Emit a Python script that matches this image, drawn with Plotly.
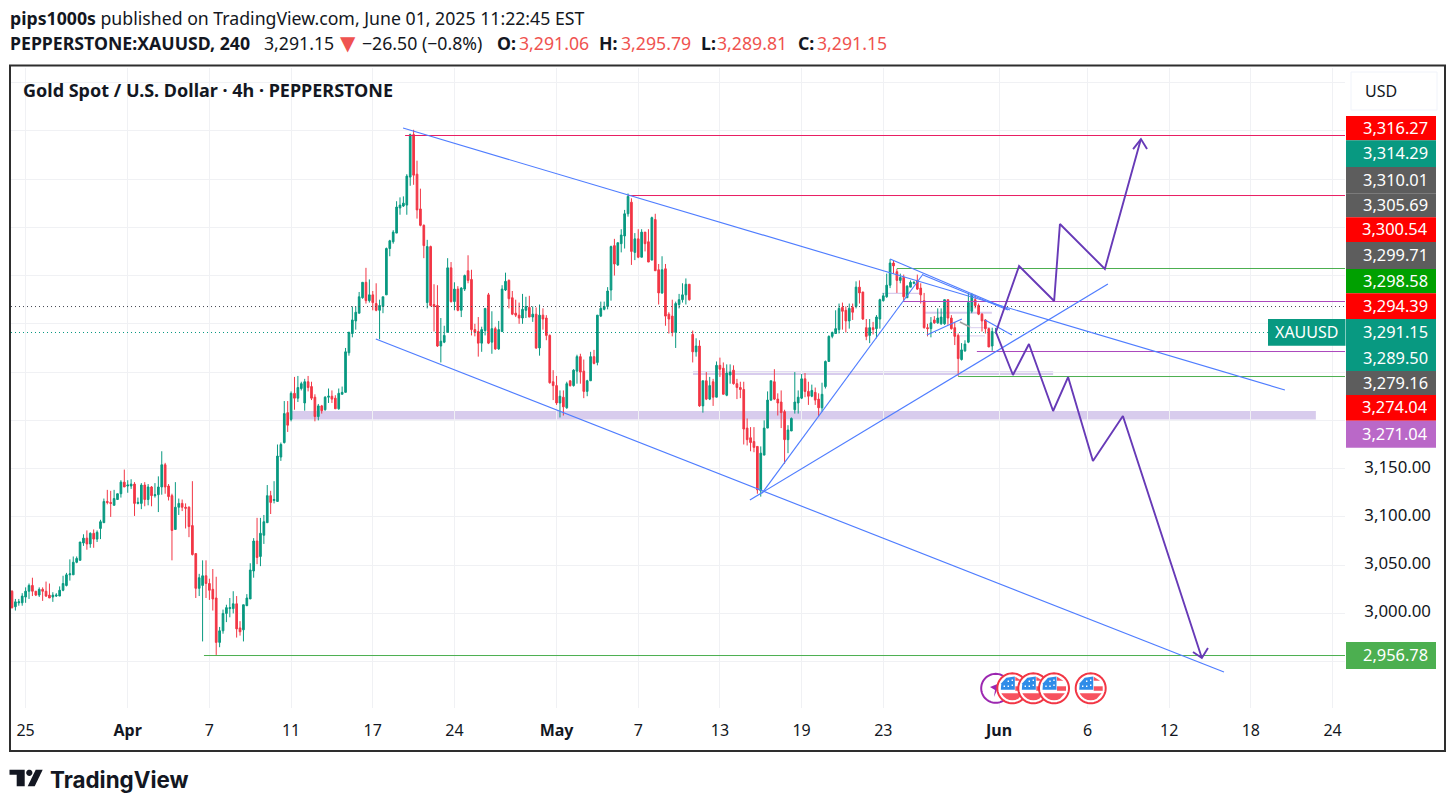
import math
import plotly.graph_objects as go

# ---------- data ----------
O = [3023,3007,3011,3011,3017,3023,3029,3023,3019,3025,
     3023,3019,3017,3018,3018,3024,3029,3040,3040,3053,
     3055,3073,3078,3072,3083,3077,3088,3094,3116,3115,
     3112,3118,3124,3136,3132,3132,3134,3114,3114,3133,
     3118,3131,3122,3123,3131,3154,3132,3122,3087,3110,
     3114,3110,3110,3091,3062,3026,3029,3039,3031,3025,
     3016,2970,2982,3000,3005,3005,3010,2985,2983,3008,
     3015,3044,3075,3059,3081,3094,3122,3117,3116,3162,
     3177,3208,3201,3228,3223,3233,3218,3240,3235,3224,
     3204,3215,3211,3224,3225,3223,3212,3227,3229,3270,
     3290,3303,3311,3327,3343,3324,3330,3321,3314,3318,
     3330,3378,3385,3394,3420,3422,3423,3452,3496,3455,
     3419,3402,3322,3380,3320,3319,3277,3281,3291,3358,
     3323,3336,3314,3336,3355,3346,3294,3292,3280,3293,
     3330,3281,3295,3274,3292,3335,3345,3327,3311,3309,
     3306,3314,3317,3307,3310,3275,3309,3306,3288,3240,
     3236,3218,3224,3213,3241,3236,3251,3266,3251,3230,
     3241,3266,3260,3308,3315,3318,3335,3381,3361,3383,
     3391,3414,3426,3374,3388,3369,3395,3385,3366,3408,
     3356,3332,3357,3310,3308,3291,3320,3325,3330,3341,
     3289,3271,3277,3215,3241,3222,3240,3224,3257,3254,
     3226,3247,3252,3238,3234,3232,3192,3182,3178,3173,
     3127,3164,3192,3221,3240,3222,3219,3209,3180,3189,
     3211,3218,3223,3243,3230,3225,3229,3222,3213,3235,
     3261,3287,3290,3294,3317,3314,3303,3317,3318,3338,
     3333,3296,3288,3296,3295,3305,3324,3328,3340,3363,
     3354,3345,3348,3327,3338,3342,3345,3337,3324,3296,
     3295,3304,3301,3300,3300,3325,3306,3296,3288,3263,
     3272,3281,3313,3325,3319,3310,3304,3295,3277,3291.06]
H = [3024,3015,3015,3021,3027,3031,3037,3023,3027,3027,
     3033,3031,3022,3021,3028,3039,3042,3056,3059,3059,
     3074,3082,3086,3084,3087,3086,3097,3119,3128,3127,
     3128,3124,3138,3149,3138,3139,3136,3120,3135,3136,
     3134,3132,3135,3142,3168,3156,3134,3124,3136,3119,
     3118,3114,3111,3137,3062,3041,3055,3055,3036,3046,
     3038,2986,3004,3009,3016,3023,3018,2992,3009,3020,
     3052,3078,3099,3099,3102,3133,3127,3137,3175,3177,
     3220,3220,3230,3245,3246,3240,3243,3246,3240,3227,
     3217,3216,3225,3233,3231,3226,3233,3235,3275,3292,
     3318,3318,3333,3343,3358,3346,3334,3342,3325,3328,
     3379,3387,3397,3427,3431,3432,3455,3497,3501,3469,
     3440,3403,3387,3381,3341,3340,3306,3298,3368,3364,
     3343,3339,3338,3351,3371,3356,3300,3307,3297,3316,
     3332,3313,3297,3303,3340,3353,3346,3334,3325,3322,
     3331,3328,3329,3318,3317,3320,3316,3309,3289,3252,
     3246,3231,3231,3240,3241,3253,3268,3269,3263,3242,
     3271,3273,3309,3323,3323,3338,3381,3388,3384,3398,
     3418,3435,3430,3394,3398,3398,3395,3398,3411,3414,
     3362,3370,3362,3312,3325,3323,3331,3342,3347,3341,
     3293,3285,3283,3241,3250,3245,3243,3261,3265,3260,
     3258,3258,3257,3243,3240,3240,3202,3193,3193,3173,
     3173,3200,3230,3241,3253,3228,3231,3211,3195,3203,
     3250,3231,3248,3249,3240,3237,3234,3228,3239,3262,
     3288,3292,3314,3321,3322,3318,3321,3321,3344,3345,
     3333,3305,3305,3302,3309,3326,3332,3352,3367,3366,
     3357,3352,3351,3340,3345,3344,3351,3342,3332,3300,
     3307,3308,3316,3316,3325,3325,3309,3302,3290,3280,
     3283,3332,3332,3330,3321,3311,3305,3296,3296,3295.79]
L = [3005,3003,3008,3008,3011,3015,3018,3018,3017,3013,
     3017,3016,3012,3017,3018,3023,3028,3034,3040,3052,
     3055,3070,3066,3068,3068,3074,3077,3094,3113,3100,
     3112,3118,3120,3131,3125,3129,3101,3113,3108,3111,
     3112,3111,3120,3105,3123,3124,3117,3055,3087,3102,
     3106,3088,3079,3060,3016,3018,2971,3016,3014,3003,
     2957,2965,2979,2991,2996,3000,2975,2977,2971,3008,
     3015,3037,3051,3049,3072,3094,3103,3114,3116,3158,
     3176,3188,3199,3211,3219,3231,3210,3230,3221,3199,
     3200,3207,3210,3218,3218,3212,3211,3227,3229,3267,
     3286,3294,3311,3326,3321,3322,3314,3313,3284,3311,
     3330,3370,3383,3394,3413,3421,3413,3443,3444,3409,
     3401,3368,3316,3318,3292,3276,3260,3280,3291,3322,
     3314,3313,3307,3334,3342,3288,3287,3266,3271,3288,
     3279,3269,3273,3273,3292,3334,3316,3309,3307,3300,
     3300,3306,3307,3302,3274,3267,3294,3283,3238,3221,
     3216,3203,3205,3212,3235,3235,3238,3238,3223,3225,
     3241,3258,3257,3307,3314,3315,3324,3350,3360,3374,
     3378,3411,3361,3366,3368,3369,3375,3364,3366,3355,
     3320,3331,3298,3290,3287,3275,3316,3322,3320,3324,
     3260,3266,3214,3208,3221,3221,3215,3224,3245,3227,
     3225,3238,3237,3222,3223,3175,3174,3168,3167,3124,
     3121,3164,3192,3220,3221,3205,3192,3155,3166,3189,
     3207,3207,3222,3224,3216,3224,3216,3204,3209,3233,
     3261,3285,3290,3290,3294,3291,3295,3304,3316,3321,
     3304,3283,3280,3289,3285,3295,3323,3327,3337,3352,
     3332,3342,3324,3327,3338,3341,3335,3321,3295,3287,
     3286,3300,3300,3299,3299,3299,3294,3278,3246,3262,
     3271,3280,3311,3316,3309,3292,3290,3276,3272,3289.81]
C = [3006,3012,3012,3018,3023,3029,3023,3019,3025,3023,
     3018,3016,3019,3019,3024,3031,3040,3041,3053,3057,
     3074,3078,3072,3083,3077,3084,3095,3116,3115,3114,
     3119,3124,3136,3131,3133,3134,3114,3115,3133,3118,
     3131,3122,3123,3131,3154,3131,3121,3086,3110,3114,
     3110,3109,3090,3061,3026,3037,3039,3031,3024,3015,
     2970,2982,3000,3006,3006,3010,2984,2981,3009,3016,
     3045,3075,3058,3083,3095,3122,3115,3118,3163,3175,
     3207,3195,3228,3223,3234,3238,3240,3234,3223,3204,
     3215,3210,3224,3225,3222,3212,3228,3229,3271,3291,
     3304,3312,3328,3343,3324,3330,3322,3314,3319,3328,
     3378,3386,3395,3421,3423,3425,3453,3496,3454,3418,
     3402,3381,3380,3319,3318,3277,3282,3288,3358,3323,
     3336,3314,3337,3350,3345,3294,3291,3280,3294,3316,
     3280,3295,3274,3294,3336,3344,3326,3310,3309,3306,
     3315,3318,3307,3310,3275,3309,3305,3288,3239,3236,
     3218,3225,3214,3238,3236,3252,3266,3250,3230,3241,
     3266,3259,3309,3316,3318,3334,3380,3362,3384,3392,
     3414,3432,3375,3388,3369,3395,3383,3364,3410,3355,
     3332,3356,3308,3305,3291,3321,3325,3330,3341,3325,
     3271,3277,3215,3241,3222,3236,3224,3257,3253,3227,
     3249,3250,3238,3234,3232,3191,3180,3177,3172,3128,
     3166,3192,3221,3241,3222,3218,3208,3180,3190,3202,
     3219,3224,3243,3230,3225,3231,3221,3213,3227,3261,
     3287,3291,3295,3316,3313,3303,3316,3312,3338,3332,
     3305,3287,3296,3294,3307,3325,3329,3340,3363,3360,
     3345,3348,3328,3339,3343,3343,3336,3330,3296,3295,
     3301,3301,3306,3307,3325,3306,3295,3287,3264,3273,
     3279,3322,3330,3319,3310,3303,3295,3276,3292,3291.15]

date_tick_bars = [4, 34, 58, 82, 106, 130, 160, 184, 208, 232, 256, 290, 316, 340, 364, 388]
date_tick_text = ["25", "<b>Apr</b>", "7", "11", "17", "24", "<b>May</b>", "7", "13", "19", "23",
                  "<b>Jun</b>", "6", "12", "18", "24"]
grid_prices = [2950, 3000, 3050, 3100, 3150, 3200, 3250, 3300, 3350, 3400, 3450, 3500, 3550]
shown_prices = [3000, 3050, 3100, 3150]

level_prices = [3495.07, 3432.9, 3357.3, 3323.1, 3271.3, 3245.4, 2956.4]
level_starts = [115.5, 181, 260, 261.8, 283.5, 278, 56.4]
level_colors = ["#e91e63", "#e91e63", "#4caf50", "#ab47bc", "#ab47bc", "#4caf50", "#4caf50"]

last_price = 3291.0
marker_price = 3317.9

zone_bounds = [(82, 383.1, 3201, 3209.7), (200.1, 305.9, 3247, 3251),
               (255.6, 266.8, 3331, 3332.2), (268.3, 287.9, 3310.5, 3312.5),
               (281.5, 287.4, 3295.5, 3296.5), (278.5, 285.9, 3287, 3288)]

trend_lines = [
    ([114.9, 374.0], [3502.8, 3231.4]),
    ([106.9, 356.1], [3284.3, 2939.3]),
    ([220.4, 267.7], [3124.7, 3351.6]),
    ([216.8, 322.0], [3117.5, 3341.2]),
    ([258.0, 293.2], [3367.1, 3314.3]),
    ([267.7, 292.6], [3350.5, 3314.3]),
    ([268.8, 279.1], [3288.4, 3305.0]),
    ([285.9, 293.8], [3303.9, 3288.4]),
]
up_x = [289.1, 295.9, 306.2, 307.9, 321.1, 331.7]
up_y = [3291.5, 3359.9, 3323.6, 3403.4, 3356.8, 3491.4]
up_head_x = [329.4, 331.7, 333.5]
up_head_y = [3481, 3491.4, 3481]
down_x = [289.1, 294.1, 298.8, 305.9, 310.3, 317.6, 326.4, 349.6]
down_y = [3291.5, 3247, 3279.1, 3209.7, 3244.9, 3157.9, 3204.5, 2953.8]
down_head_x = [347, 349.6, 351.4]
down_head_y = [2960, 2953.8, 2964.2]

axis_labels = ["3,316.27", "3,314.29", "3,310.01", "3,305.69", "3,300.54", "3,299.71", "3,298.58",
               "3,294.39", "3,291.15", "3,289.50", "3,279.16", "3,274.04", "3,271.04", "2,956.78"]
axis_label_colors = ["#ff0000", "#089981", "#5d5d5d", "#5d5d5d", "#ff0000", "#5d5d5d", "#00a000",
                     "#ff0000", "#089981", "#089981", "#5d5d5d", "#ff0000", "#ba68c8", "#4caf50"]

# ---------- layout helpers ----------
W, H_PX = 1455, 806
L_M, R_M, T_M, B_M = 11, 110, 68, 98
PW, PH = W - L_M - R_M, H_PX - T_M - B_M
FONT = "Noto Sans"
INK = "#131722"
def fx(x): return (x - L_M) / PW
def fy(y): return 1 - (y - T_M) / PH

shapes, annos = [], []
def rect(x0, y0, x1, y1, fill, line=None, lw=0, layer="above"):
    shapes.append(dict(type="rect", xref="paper", yref="paper", x0=fx(x0), x1=fx(x1), y0=fy(y0), y1=fy(y1),
                       fillcolor=fill, line=dict(color=line or fill, width=lw), layer=layer))
def poly(pts, fill, line=None, lw=0):
    d = "M" + " L".join(f"{fx(a):.5f},{fy(b):.5f}" for a, b in pts) + " Z"
    shapes.append(dict(type="path", xref="paper", yref="paper", path=d, fillcolor=fill,
                       line=dict(color=line or fill, width=lw), layer="above"))
def circle(cx, cy, r, fill, line=None, lw=0):
    poly([(cx + r * math.cos(t * math.pi / 30), cy + r * math.sin(t * math.pi / 30)) for t in range(60)], fill, line, lw)
def text(x, y, s, size=16, color=INK, anchor="left", font=FONT):
    annos.append(dict(xref="paper", yref="paper", x=fx(x), y=fy(y), text=s, showarrow=False, xanchor=anchor,
                      yanchor="middle", xshift=0, font=dict(family=font, size=size, color=color), borderpad=0, borderwidth=0))

# ---------- zones ----------
for x0, x1, y0, y1 in zone_bounds:
    shapes.append(dict(type="rect", xref="x", yref="y", x0=x0, x1=x1, y0=y0, y1=y1, fillcolor="rgba(149,117,205,0.37)",
                       line=dict(width=0), layer="below"))

# ---------- frame, header ----------
rect(10, 65.5, 1445, 751, "rgba(0,0,0,0)", "#2e2e2e", 2)

HS = 17.7
text(10, 18, "<b>pips1000s</b> published on TradingView.com, June 01, 2025 11:22:45 EST", HS)
text(10, 43, "<b>PEPPERSTONE:XAUUSD, 240</b>", HS)
text(264, 43, "3,291.15", HS)
text(340, 43, "▼", 20, "#ef5350", font="DejaVu Sans")
text(362, 43, "−26.50 (−0.8%)", HS)
for xa, lab, xb, val in [(497, "O:", 519, "3,291.06"), (599, "H:", 621, "3,295.79"),
                         (701, "L:", 717, "3,289.81"), (798, "C:", 817, "3,291.15")]:
    text(xa, 43, f"<b>{lab}</b>", HS)
    text(xb, 43, val, HS, "#ef5350")
text(23, 90, "<b>Gold Spot / U.S. Dollar · 4h · PEPPERSTONE</b>", 18)

# USD button
rect(1351, 72, 1437, 110, "#ffffff", "#f0f3fa", 1)
text(1381, 91, "USD", 16, INK, "center")

# price labels
tops = [116, 140.3, 167, 193.3, 217.3, 242, 269, 293.3, 319, 345, 371, 395, 420.7, 642]
bots = [140.3, 167, 193.3, 217.3, 242, 269, 293.3, 319, 345, 371, 395, 420.7, 447.7, 669]
for s, col, t, b in zip(axis_labels, axis_label_colors, tops, bots):
    rect(1346, t, 1436, b, col)
    text(1428, (t + b) / 2 - 1, s, 16.4, "#ffffff", "right")
rect(1268, 319, 1345.5, 345.7, "#089981")
text(1306.5, 332, "XAUUSD", 16, "#ffffff", "center")

# event icons
circle(995.7, 688.3, 14.5, "#ffffff", "#9c27b0", 2)
poly([(990, 687), (1000, 683), (994, 697), (995, 690)], "#9c27b0")
for cx in [1012.3, 1033.3, 1054, 1090.7]:
    cy = 688.3
    circle(cx, cy, 15, "#ffffff", "#f23645", 2)
    r = 12
    ch = lambda dy: math.sqrt(max(r * r - dy * dy, 0))
    # top stripe
    poly([(cx + 3, cy - 11.5), (cx + ch(7.5), cy - 7.5), (cx + 3, cy - 7.5)], "#f7525f")
    # middle stripe
    poly([(cx + 3, cy - 2), (cx + 12, cy - 2), (cx + 12, cy + 2.5), (cx + 3, cy + 2.5)], "#f7525f")
    # bottom segment
    poly([(cx - ch(5), cy + 5)] +
         [(cx + r * math.cos(a * math.pi / 12), cy + r * math.sin(a * math.pi / 12)) for a in range(10, 3, -1)] +
         [(cx + ch(5), cy + 5)], "#f7525f")
    # canton
    poly([(cx - 11.5, cy + 1.5), (cx - 11, cy - 5), (cx - 6, cy - 10.5), (cx + 2.5, cy - 11.8), (cx + 2.5, cy + 1.5)], "#2f8ce8")
    for sx, sy in [(-8, -2), (-4, -7), (-4, -2), (0, -8), (0, -3)]:
        rect(cx + sx - 0.7, cy + sy - 0.7, cx + sx + 0.7, cy + sy + 0.7, "#ffffff")

# logo
poly([(9.5, 769.7), (24.7, 769.7), (24.7, 786.3), (16.7, 786.3), (16.7, 774.7), (9.5, 774.7)], "#131722")
circle(29.3, 772.8, 3.1, "#131722")
poly([(35.7, 769.7), (42.7, 769.7), (34.7, 786.3), (27.7, 786.3)], "#131722")
text(50, 779, "<b>TradingView</b>", 22.4, "#131722", font="Inter")

# ---------- traces ----------
bars = list(range(len(O)))
x_end = 391.66
fig = go.Figure()
fig.add_trace(go.Candlestick(x=bars, open=O, high=H, low=L, close=C, whiskerwidth=0,
                             increasing=dict(line=dict(color="#089981", width=1), fillcolor="#089981"),
                             decreasing=dict(line=dict(color="#f23645", width=1), fillcolor="#f23645"),
                             hoverinfo="skip", showlegend=False))
def line(xs, ys, color, width=1, dash=None):
    fig.add_trace(go.Scatter(x=xs, y=ys, mode="lines", hoverinfo="skip", showlegend=False,
                             line=dict(color=color, width=width, dash=dash)))
for p, s, col in zip(level_prices, level_starts, level_colors):
    line([s, x_end], [p, p], col, 1)
line([-0.29, x_end], [marker_price, marker_price], "#434651", 1, "1px 3px")
line([-0.29, 369], [last_price, last_price], "#089981", 1, "1px 3px")
for xs, ys in trend_lines:
    line(xs, ys, "#4f7dff", 1.15)
line([278.5, 281.5], [3301.9, 3296.7], "#a0a0a0", 1.5)
line(up_x, up_y, "#673ab7", 1.9)
line(up_head_x, up_head_y, "#673ab7", 1.9)
line(down_x, down_y, "#673ab7", 1.9)
line(down_head_x, down_head_y, "#673ab7", 1.9)

fig.update_layout(
    width=W, height=H_PX, margin=dict(l=L_M, r=R_M, t=T_M, b=B_M, pad=0),
    paper_bgcolor="#ffffff", plot_bgcolor="#ffffff", showlegend=False,
    shapes=shapes, annotations=annos, font=dict(family=FONT, color=INK),
    xaxis=dict(range=[-0.294, x_end], rangeslider=dict(visible=False), tickmode="array",
               tickvals=date_tick_bars, ticktext=date_tick_text, showgrid=True, gridcolor="#f0f1f4", gridwidth=1,
               zeroline=False, showline=False, ticks="outside", ticklen=8, tickcolor="rgba(0,0,0,0)",
               tickfont=dict(size=16, family=FONT, color=INK), fixedrange=True),
    yaxis=dict(range=[2902.04, 3565], side="right", tickmode="array", tickvals=grid_prices,
               ticktext=[f"{p:,.2f}" if p in shown_prices else "" for p in grid_prices],
               showgrid=True, gridcolor="#f0f1f4", gridwidth=1, zeroline=False, showline=False,
               ticks="outside", ticklen=15, ticklabelshift=-2, tickcolor="rgba(0,0,0,0)",
               tickfont=dict(size=16.8, family=FONT, color=INK), fixedrange=True),
)
fig.write_html("out.html", config=dict(displayModeBar=False, responsive=False),
               post_script="document.body.style.margin='0';document.body.style.overflow='hidden';")
